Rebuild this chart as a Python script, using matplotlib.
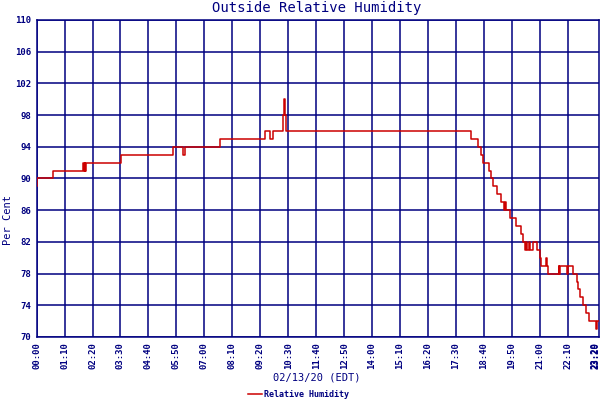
import matplotlib
matplotlib.use("Agg")
import matplotlib.pyplot as plt

# minutes after midnight, humidity in percent (step changes)
minutes = [0, 1, 40, 117, 119, 120, 122, 123, 212, 341, 366, 371, 460, 571, 585, 591,
           617, 620, 622, 625, 1087, 1106, 1112, 1118, 1132, 1137, 1143, 1153, 1162,
           1170, 1172, 1175, 1185, 1200, 1212, 1218, 1222, 1225, 1228, 1232, 1236, 1242,
           1252, 1260, 1264, 1275, 1278, 1280, 1307, 1309, 1311, 1328, 1330, 1343, 1352,
           1356, 1360, 1368, 1375, 1383, 1400, 1402, 1409]
humidity = [89, 90, 91, 92, 91, 92, 91, 92, 93, 94, 93, 94, 95, 96, 95, 96,
            98, 100, 98, 96, 95, 94, 93, 92, 91, 90, 89, 88, 87,
            86, 87, 86, 85, 84, 83, 82, 81, 82, 81, 82, 81, 82,
            81, 80, 79, 80, 79, 78, 79, 78, 79, 78, 79, 78, 77,
            76, 75, 74, 73, 72, 71, 72, 72]

tick_minutes = [0, 70, 140, 210, 280, 350, 420, 490, 560, 630, 700, 770, 840, 910,
                980, 1050, 1120, 1190, 1260, 1330, 1400, 1409]
tick_labels = ["00:00", "01:10", "02:20", "03:30", "04:40", "05:50", "07:00", "08:10",
               "09:20", "10:30", "11:40", "12:50", "14:00", "15:10", "16:20", "17:30",
               "18:40", "19:50", "21:00", "22:10", "23:20", "23:29"]
y_ticks = [70, 74, 78, 82, 86, 90, 94, 98, 102, 106, 110]

navy = "#000080"
red = "#cc0000"
mono = "DejaVu Sans Mono"

fig = plt.figure(figsize=(6, 4), dpi=100)
ax = fig.add_axes([0.061, 0.1575, 0.938, 0.7925])

ax.plot(minutes, humidity, drawstyle="steps-post", color=red, lw=1.1,
        label="Relative Humidity", zorder=3)

ax.set_xlim(0, 1409)
ax.set_ylim(70, 110)
ax.set_xticks(tick_minutes[:-2])
ax.set_yticks(y_ticks)
ax.grid(True, color=navy, lw=1.1)
for s in ax.spines.values():
    s.set_color(navy)
    s.set_linewidth(1.1)

# tick labels drawn by hand so the last two sit close together like the original
ax.set_xticklabels([])
ax.tick_params(length=0)
for t, lab in zip(tick_minutes, tick_labels):
    ha = "right" if lab == "23:29" else "center"
    ax.text(t, 69.4, lab, rotation=90, ha=ha, va="top", fontsize=6.5,
            fontweight="bold", family=mono, color=navy)
ax.set_yticklabels([str(v) for v in y_ticks], fontsize=6.5, fontweight="bold",
                   family=mono, color=navy)
ax.tick_params(axis="y", pad=4)

fig.text(0.528, 0.98, "Outside Relative Humidity", ha="center", va="center",
         fontsize=10, family=mono, color=navy)
fig.text(0.014, 0.45, "Per Cent", rotation=90, ha="center", va="center",
         fontsize=7.5, family=mono, color=navy)
fig.text(0.528, 0.055, "02/13/20 (EDT)", ha="center", va="center",
         fontsize=7.5, family=mono, color=navy)

fig.legend(loc="center", bbox_to_anchor=(0.498, 0.013), frameon=False,
           handlelength=1.6, handletextpad=0.3, borderpad=0,
           prop={"family": mono, "size": 6, "weight": "bold"},
           labelcolor=navy)

fig.savefig("out.png", dpi=100)
